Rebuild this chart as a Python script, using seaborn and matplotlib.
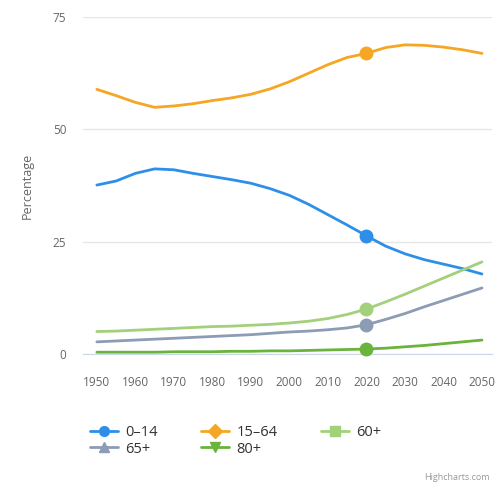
import matplotlib
matplotlib.use("Agg")
import matplotlib.pyplot as plt
import numpy as np
import pandas as pd
import seaborn as sns
from matplotlib.lines import Line2D

# ---------------------------------------------------------------------------
# DATA
# ---------------------------------------------------------------------------
years = list(range(1950, 2051, 5))

age_0_14 = [37.6, 38.5, 40.2, 41.2, 41.0, 40.2, 39.5, 38.8, 38.0, 36.8, 35.3,
            33.3, 31.0, 28.7, 26.3, 24.0, 22.3, 21.0, 20.0, 19.0, 17.8]
age_15_64 = [58.9, 57.5, 56.0, 54.9, 55.2, 55.7, 56.4, 57.0, 57.8, 59.0, 60.6,
             62.5, 64.4, 66.0, 66.9, 68.2, 68.8, 68.7, 68.3, 67.7, 66.9]
age_60p = [5.0, 5.1, 5.3, 5.5, 5.7, 5.9, 6.1, 6.2, 6.4, 6.6, 6.9,
           7.3, 7.9, 8.8, 10.0, 11.6, 13.3, 15.1, 16.9, 18.7, 20.5]
age_65p = [2.7, 2.9, 3.1, 3.3, 3.5, 3.7, 3.9, 4.1, 4.3, 4.6, 4.9,
           5.1, 5.4, 5.8, 6.5, 7.7, 9.0, 10.5, 11.9, 13.3, 14.7]
age_80p = [0.4, 0.4, 0.4, 0.4, 0.5, 0.5, 0.5, 0.6, 0.6, 0.7, 0.7,
           0.8, 0.9, 1.0, 1.1, 1.3, 1.6, 1.9, 2.3, 2.7, 3.1]

series_names = ["0\u201314", "15\u201364", "60+", "65+", "80+"]
highlight_year = 2020
x_ticks = list(range(1950, 2051, 10))
y_ticks = [0, 25, 50, 75]

colors = {
    "0\u201314": "#2e8fe8",
    "15\u201364": "#f5a623",
    "60+": "#a3d07a",
    "65+": "#8c9cb4",
    "80+": "#6ab33c",
}
markers = {"0\u201314": "o", "15\u201364": "D", "60+": "s", "65+": "^", "80+": "v"}

df = pd.DataFrame({
    "year": years * 5,
    "value": age_0_14 + age_15_64 + age_60p + age_65p + age_80p,
    "group": [name for name in series_names for _ in years],
})

# ---------------------------------------------------------------------------
# PLOT
# ---------------------------------------------------------------------------
sns.set_style("white")
plt.rcParams["font.family"] = ["Open Sans", "DejaVu Sans"]

fig = plt.figure(figsize=(5.03, 4.87), dpi=100)
ax = fig.add_axes([83 / 503, 1 - 354 / 487, (492 - 83) / 503, (354 - 17) / 487])

sns.lineplot(data=df, x="year", y="value", hue="group", palette=colors,
             linewidth=2, ax=ax, legend=False, clip_on=False)

hl = df[df["year"] == highlight_year]
for name in series_names:
    row = hl[hl["group"] == name]
    ax.plot(row["year"], row["value"], marker="o", markersize=9,
            color=colors[name], linestyle="none", clip_on=False, zorder=5)

ax.set_xlim(1946.4, 2052.6)
ax.set_ylim(0, 75)
ax.set_xticks(x_ticks)
ax.set_yticks(y_ticks)
ax.tick_params(axis="both", length=0, labelsize=8.5, labelcolor="#666666")
ax.tick_params(axis="y", pad=12)
ax.tick_params(axis="x", pad=16)
ax.grid(axis="y", color="#e6e6e6", linewidth=1)
ax.set_axisbelow(True)
for side in ["top", "right", "left"]:
    ax.spines[side].set_visible(False)
ax.spines["bottom"].set_color("#ccd6eb")
ax.set_xlabel("")
ax.set_ylabel("Percentage", color="#666666", fontsize=9, labelpad=14)

# legend, ordered so the rows read like the reference
order = ["0\u201314", "65+", "15\u201364", "80+", "60+"]
handles = [Line2D([], [], color=colors[n], marker=markers[n], markersize=7,
                  linewidth=2) for n in order]
fig.legend(handles, order, loc="upper left", bbox_to_anchor=(77 / 503, 1 - 412 / 487),
           ncol=3, frameon=False, fontsize=10.5, labelcolor="#333333",
           handlelength=1.9, columnspacing=3.0, labelspacing=0.1, handletextpad=0.5)

fig.text(490 / 503, 1 - 478 / 487, "Highcharts.com", ha="right", va="center",
         fontsize=6.5, color="#999999")

fig.savefig("out.png", dpi=100)
